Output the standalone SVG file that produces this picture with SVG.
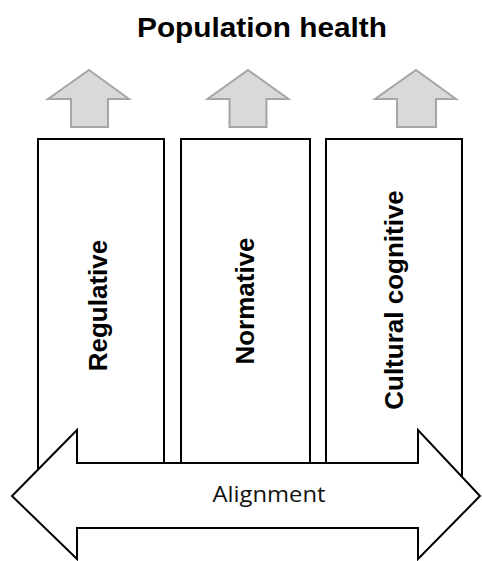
<svg xmlns="http://www.w3.org/2000/svg" width="482" height="561" viewBox="0 0 482 561">
<style>
.up{fill:#d9d9d9;stroke:#a6a6a6;stroke-width:2;stroke-linejoin:miter}
.box{fill:#fff;stroke:#000;stroke-width:2}
.lbl{font-family:"Liberation Sans",Arial,sans-serif;font-weight:bold;font-size:26px;text-anchor:middle;fill:#000}
.title{font-family:"Liberation Sans",Arial,sans-serif;font-weight:bold;font-size:28.5px;text-anchor:middle;fill:#000}
.align{font-family:"Open Sans","Liberation Sans",sans-serif;font-size:22px;text-anchor:middle;fill:#111}
</style>
<rect width="482" height="561" fill="#fff"/>
<g id="title"><text class="title" x="262" y="37" textLength="250" lengthAdjust="spacingAndGlyphs">Population health</text></g>
<g id="arrow-up-1"><polygon class="up" points="89,70 129,99 108,99 108,127 71,127 71,99 48,99"/></g>
<g id="arrow-up-2"><polygon class="up" points="248,70 288.5,99 266.5,99 266.5,127 229.5,127 229.5,99 207.5,99"/></g>
<g id="arrow-up-3"><polygon class="up" points="416,70 456,99 436,99 436,127 397,127 397,99 375,99"/></g>
<g id="regulative"><rect class="box" x="38" y="139" width="126" height="340"/><text class="lbl" transform="translate(107,305.5) rotate(-90)">Regulative</text></g>
<g id="normative"><rect class="box" x="181" y="139" width="129" height="340"/><text class="lbl" transform="translate(254,301) rotate(-90)">Normative</text></g>
<g id="cultural-cognitive"><rect class="box" x="326" y="139" width="136" height="340"/><text class="lbl" transform="translate(403,300) rotate(-90)">Cultural cognitive</text></g>
<g id="alignment"><polygon points="12,496 77,430 77,463 418,463 418,430 480,496 418,559 418,528 77,528 77,559" fill="#fff" stroke="#000" stroke-width="2"/><text class="align" x="269" y="502" textLength="113" lengthAdjust="spacingAndGlyphs">Alignment</text></g>
</svg>
